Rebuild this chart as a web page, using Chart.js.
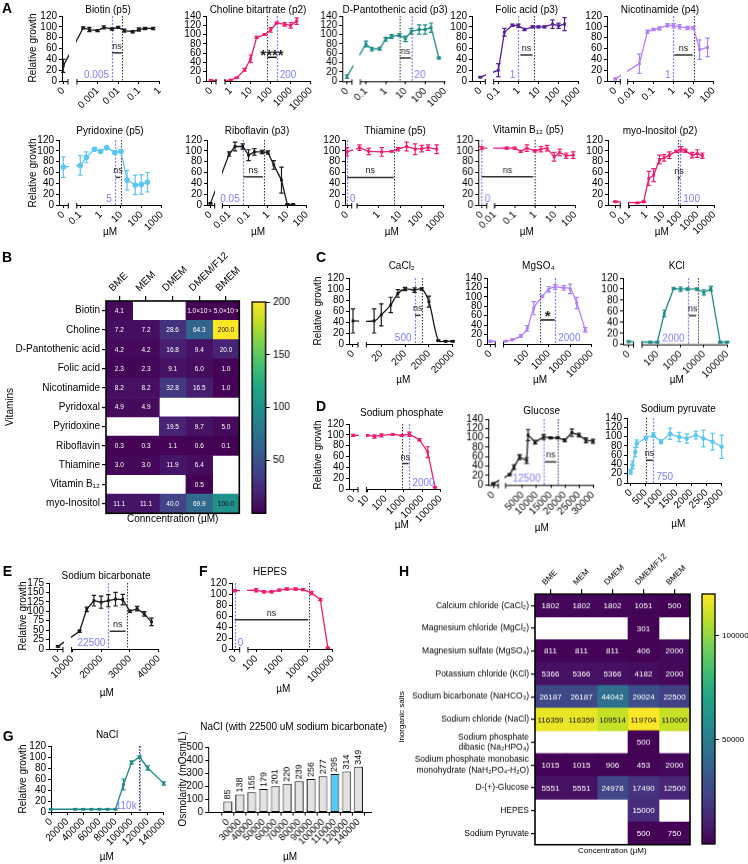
<!DOCTYPE html>
<html><head><meta charset="utf-8">
<script src="https://cdn.jsdelivr.net/npm/chart.js@4.4.1/dist/chart.umd.min.js"></script>
<style>
html,body{margin:0;padding:0;background:#fff;}
#fig{position:relative;width:748px;height:864px;overflow:hidden;font-family:"Liberation Sans",Arial,Helvetica,sans-serif;color:#000;}
#fig canvas{position:absolute;}
</style></head><body><div id="fig"></div>
<script>
// ===================== DATA =====================
// Panel A – vitamins (concentration µM, relative growth %, SD)
const biotinConc = [0, 0.0002, 0.0004, 0.001, 0.002, 0.005, 0.01, 0.02, 0.05, 0.1, 0.2, 0.5];
const biotinGrowth = [28, 98, 95, 93, 99, 96, 99, 93, 91, 95, 97, 97];
const biotinSD = [12, 2, 4, 2, 3, 2, 2, 3, 2, 3, 2, 2];
const biotinTicks = ['0', '0.001', '0.01', '0.1', '1'];

const cholineConc = [0, 1, 2, 5, 10, 20, 50, 100, 200, 500, 1000, 2000];
const cholineGrowth = [1.5, 2, 7, 24, 48, 94, 100, 110, 125, 122, 120, 129];
const cholineSD = [1, 1, 1, 3, 8, 2, 2, 5, 2, 4, 6, 7];
const cholineTicks = ['0', '1', '10', '100', '1000', '10000'];

const pantoConc = [0, 0.1, 0.2, 0.5, 1, 2, 5, 10, 20, 50, 100, 200, 500];
const pantoGrowth = [10, 80, 69, 70, 90, 96, 99, 91, 107, 111, 111, 115, 50];
const pantoSD = [4, 6, 4, 3, 4, 4, 3, 6, 6, 10, 10, 10, 2];
const pantoTicks = ['0', '0.1', '1', '10', '100', '1000'];

const folicConc = [0, 0.1, 0.2, 0.5, 1, 2, 5, 10, 20, 50, 100, 200];
const folicGrowth = [7, 20, 90, 103, 102, 95, 100, 100, 100, 105, 102, 105];
const folicSD = [1, 12, 7, 2, 3, 2, 2, 2, 2, 8, 5, 12];
const folicTicks = ['0', '0.1', '1', '10', '100', '1000'];

const nicoConc = [0, 0.02, 0.05, 0.1, 0.2, 0.5, 1, 2, 5, 10, 20, 50];
const nicoGrowth = [4, 32, 91, 95, 97, 103, 102, 100, 98, 98, 58, 62];
const nicoSD = [2, 18, 3, 2, 3, 3, 4, 4, 3, 3, 18, 17];
const nicoTicks = ['0', '0.01', '0.1', '1', '10', '100'];

const pyridoxineConc = [0, 0.1, 0.2, 0.5, 1, 2, 5, 10, 20, 50, 100, 200];
const pyridoxineGrowth = [70, 73, 88, 103, 99, 106, 97, 99, 46, 37, 38, 42];
const pyridoxineSD = [19, 18, 10, 2, 2, 2, 3, 2, 18, 18, 18, 18];
const pyridoxineTicks = ['0', '0.1', '1', '10', '100', '1000'];

const riboConc = [0, 0.01, 0.02, 0.05, 0.1, 0.2, 0.5, 1, 2, 5, 10, 20];
const riboGrowth = [3, 94, 108, 108, 92, 98, 98, 97, 74, 46, 1, 1];
const riboSD = [1, 4, 8, 5, 10, 6, 3, 3, 8, 24, 1, 1];
const riboTicks = ['0', '0.01', '0.1', '1', '10', '100'];

const thiaConc = [0, 0.13, 0.35, 1.4, 4, 8, 20, 50, 100, 200, 500];
const thiaGrowth = [98, 106, 99, 98, 99, 103, 108, 103, 104, 106, 103];
const thiaSD = [8, 5, 6, 8, 1, 3, 8, 10, 6, 5, 8];
const thiaTicks = ['0', '1', '10', '100', '1000'];

const b12Conc = [0, 0.04, 0.1, 0.2, 0.4, 1, 2, 4, 9, 17, 36, 80];
const b12Growth = [105, 105, 105, 99, 105, 100, 103, 105, 89, 97, 91, 92];
const b12SD = [3, 2, 2, 2, 6, 2, 5, 5, 8, 6, 5, 6];
const b12Ticks = ['0', '0.01', '0.1', '1', '10', '100'];

const inositolConc = [0, 0.3, 0.7, 1.4, 2.7, 6, 11, 23, 58, 110, 200, 500, 1000, 2000];
const inositolGrowth = [6, 4, 6, 49, 55, 84, 87, 92, 99, 103, 100, 92, 95, 91];
const inositolSD = [1, 1, 1, 13, 12, 8, 6, 6, 2, 5, 3, 5, 7, 5];
const inositolTicks = ['0', '0.1', '1', '10', '100', '1000', '10000'];

// Panel C – salts
const cacl2Conc = [0, 10, 20, 50, 100, 200, 500, 1000, 2000, 5000, 10000, 20000];
const cacl2Growth = [42, 42, 53, 71, 92, 100, 98, 100, 77, 6, 5, 5];
const cacl2SD = [22, 22, 20, 14, 7, 3, 4, 2, 10, 1, 1, 1];
const cacl2Ticks = ['0', '20', '200', '2000', '20000'];

const mgso4Conc = [0, 10, 20, 50, 100, 200, 500, 1000, 2000, 5000, 10000, 20000, 50000];
const mgso4Growth = [6, 6, 9, 17, 33, 76, 101, 116, 121, 119, 117, 87, 30];
const mgso4SD = [2, 1, 2, 3, 6, 14, 2, 6, 5, 5, 10, 12, 5];
const mgso4Ticks = ['0', '100', '1000', '10000', '100000'];

const kclConc = [0, 50, 100, 200, 500, 1000, 2000, 5000, 10000, 20000, 50000, 100000];
const kclGrowth = [5, 4, 4, 56, 101, 100, 100, 100, 94, 101, 4, 4];
const kclSD = [1, 1, 1, 6, 2, 4, 2, 2, 5, 4, 1, 1];
const kclTicks = ['0', '100', '1000', '10000', '100000'];

// Panel D
const naphosConc = [0, 10, 25, 60, 250, 750, 2000, 7000, 20000, 50000];
const naphosGrowth = [99, 99, 97, 99, 101, 99, 101, 91, 68, 3];
const naphosSD = [2, 1, 3, 3, 1, 1, 4, 2, 10, 1];
const naphosTicks = ['0', '10', '100', '1000', '10000', '100000'];

const glucoseConc = [0, 500, 2000, 4000, 6500, 7000, 9500, 12500, 15000, 17500, 20000, 22500, 25000, 27500, 30000];
const glucoseGrowth = [3, 22, 38, 59, 52, 106, 91, 102, 100, 100, 95, 111, 106, 95, 93];
const glucoseSD = [1, 2, 5, 5, 6, 12, 4, 5, 2, 2, 3, 8, 4, 5, 4];
const glucoseTicks = ['0', '5000', '10000', '15000', '20000', '25000', '30000'];

const pyruvateConc = [0, 60, 150, 200, 500, 750, 1000, 1300, 1600, 1850, 2150, 2400, 2700, 3000];
const pyruvateGrowth = [24, 39, 67, 85, 97, 103, 89, 106, 99, 96, 103, 96, 89, 78];
const pyruvateSD = [5, 8, 10, 8, 4, 5, 4, 12, 10, 10, 8, 18, 18, 25];
const pyruvateTicks = ['0', '500', '1000', '1500', '2000', '2500', '3000'];

// Panel E, F
const bicarbConc = [0, 12500, 15000, 17500, 20000, 22500, 25000, 27500, 30000, 32500, 35000, 37500];
const bicarbGrowth = [7, 47, 105, 128, 124, 128, 132, 131, 100, 107, 93, 72];
const bicarbSD = [2, 3, 6, 14, 16, 16, 18, 14, 3, 6, 6, 10];
const bicarbTicks = ['0', '10000', '20000', '30000', '40000'];

const hepesConc = [0, 100, 200, 400, 800, 1600, 3500, 7000, 15000, 33000, 65000];
const hepesGrowth = [106, 107, 104, 104, 107, 109, 109, 108, 102, 90, 2];
const hepesSD = [2, 3, 2, 2, 2, 2, 2, 2, 3, 2, 1];
const hepesTicks = ['0', '100', '1000', '10000', '100000'];

// Panel G
const naclConc = [0, 30000, 40000, 50000, 60000, 70000, 80000, 90000, 100000, 110000, 120000, 140000];
const naclGrowth = [5, 5, 5, 5, 5, 5, 5, 50, 90, 100, 80, 52];
const naclSD = [1, 1, 1, 1, 1, 1, 1, 10, 3, 2, 4, 3];
const naclTicks = ['0', '20000', '40000', '60000', '80000', '100000', '120000', '140000'];

const osmoCats = ['0', '30000', '40000', '50000', '60000', '70000', '80000', '90000', '100000', '110000', '120000', '140000'];
const osmoValues = [85, 138, 155, 179, 201, 220, 239, 256, 277, 295, 314, 349];

// Panel B / H heatmaps
const mediaNames = ['BME', 'MEM', 'DMEM', 'DMEM/F12', 'BMEM'];
const vitaminNames = ['Biotin', 'Choline', 'D-Pantothenic acid', 'Folic acid', 'Nicotinamide', 'Pyridoxal', 'Pyridoxine', 'Riboflavin', 'Thiamine', 'Vitamin B₁₂', 'myo-Inositol'];
const vitaminConc = [
  [4.1, null, null, 0.01, 0.005],
  [7.2, 7.2, 28.6, 64.3, 200.0],
  [4.2, 4.2, 16.8, 9.4, 20.0],
  [2.3, 2.3, 9.1, 6.0, 1.0],
  [8.2, 8.2, 32.8, 16.5, 1.0],
  [4.9, 4.9, null, null, null],
  [null, null, 19.5, 9.7, 5.0],
  [0.3, 0.3, 1.1, 0.6, 0.1],
  [3.0, 3.0, 11.9, 6.4, null],
  [null, null, null, 0.5, null],
  [11.1, 11.1, 40.0, 69.9, 100.0]
];
const vitaminScaleTicks = [50, 100, 150, 200];

const saltNames = ['Calcium chloride (CaCl₂)', 'Magnesium chloride (MgCl₂)', 'Magnesium sulfate (MgSO₄)', 'Potassium chloride (KCl)',
  'Sodium bicarbonate (NaHCO₃)', 'Sodium chloride (NaCl)', ['Sodium phosphate', 'dibasic (Na₂HPO₄)'],
  ['Sodium phosphate monobasic', 'monohydrate (NaH₂PO₄-H₂O)'], 'D-(+)-Glucose', 'HEPES', 'Sodium Pyruvate'];
const saltConc = [
  [1802, 1802, 1802, 1051, 500],
  [null, null, null, 301, null],
  [811, 811, 811, 406, 2000],
  [5366, 5366, 5366, 4182, 2000],
  [26187, 26187, 44042, 29024, 22500],
  [116359, 116359, 109514, 119704, 110000],
  [null, null, null, 500, null],
  [1015, 1015, 906, 453, 2000],
  [5551, 5551, 24978, 17490, 12500],
  [null, null, null, 15000, null],
  [null, null, null, 500, 750]
];
const saltScaleTicks = [50000, 100000];

// ===================== STYLE / HELPERS =====================
const FONT = '"Liberation Sans", Arial, Helvetica, sans-serif';
const BLACK = '#1a1a1a', PINK = '#f3196f', TEAL = '#1c8b88', DPURP = '#55209c', LPURP = '#b07fff', LBLUE = '#5cc6f2', BLUE = '#7f7fff';
Chart.defaults.font.family = FONT;
Chart.defaults.color = '#000';
Chart.defaults.animation = false;

const VIR = ['#440154', '#482475', '#414487', '#355f8d', '#2a788e', '#21918c', '#22a884', '#44bf70', '#7ad151', '#bddf26', '#fde725'];
function hexRgb(h) { return [parseInt(h.slice(1, 3), 16), parseInt(h.slice(3, 5), 16), parseInt(h.slice(5, 7), 16)]; }
function viridis(t) {
  t = Math.max(0, Math.min(1, t));
  const n = VIR.length - 1, i = Math.min(n - 1, Math.floor(t * n)), f = t * n - i;
  const a = hexRgb(VIR[i]), b = hexRgb(VIR[i + 1]);
  return `rgb(${Math.round(a[0] + (b[0] - a[0]) * f)},${Math.round(a[1] + (b[1] - a[1]) * f)},${Math.round(a[2] + (b[2] - a[2]) * f)})`;
}

const fig = document.getElementById('fig');
function addText(s, x, y, o = {}) {
  const d = document.createElement('div');
  d.textContent = s;
  d.style.cssText = `position:absolute;left:${x}px;top:${y}px;white-space:nowrap;line-height:1;font-size:${o.size || 10}px;` +
    `${o.bold ? 'font-weight:bold;' : ''}${o.color ? 'color:' + o.color + ';' : ''}transform:translate(-50%,-50%)${o.rot ? ' rotate(-90deg)' : ''};`;
  fig.appendChild(d);
}
function letter(s, x, y) {
  const d = document.createElement('div');
  d.textContent = s;
  d.style.cssText = `position:absolute;left:${x}px;top:${y}px;font-weight:bold;font-size:14px;line-height:1;`;
  fig.appendChild(d);
}
function mkCanvas(left, top, w, h) {
  const c = document.createElement('canvas');
  c.width = Math.round(w); c.height = Math.round(h);
  c.style.left = left + 'px'; c.style.top = top + 'px';
  c.style.width = Math.round(w) + 'px'; c.style.height = Math.round(h) + 'px';
  fig.appendChild(c);
  return c;
}
function place(chart, c, B) {
  let ca = chart.chartArea;
  const dw = (B.r - B.l) - (ca.right - ca.left), dh = (B.b - B.t) - (ca.bottom - ca.top);
  if (Math.abs(dw) > 0.4 || Math.abs(dh) > 0.4) { chart.resize(chart.width + dw, chart.height + dh); ca = chart.chartArea; }
  c.style.left = (B.l - ca.left) + 'px'; c.style.top = (B.t - ca.top) + 'px';
}
const baseOpts = () => ({ responsive: false, maintainAspectRatio: false, animation: false, events: [],
  plugins: { legend: { display: false }, tooltip: { enabled: false }, title: { display: false } } });

// ===================== LINE CHARTS =====================
function lineChart(S, idx) {
  const L = S.L;
  const T = L.mode === 'log' ? Math.log10 : (v => v);
  const pos = px => T(L.ax[1]) + (px - L.ax[0]) / L.k;
  const brk = L.zero !== undefined;
  const P = v => (v === 0 && brk) ? pos(L.zero) : T(v);
  const YW = 34, TP = 10, RP = 14, XH = 46;
  const c = mkCanvas(L.l - YW, L.t - TP, (L.r - L.l) + YW + RP, (L.b - L.t) + TP + XH);
  const tickVals = S.ticks.map(s => P(parseFloat(s)));
  const deco = {
    id: 'deco' + idx,
    beforeDatasetsDraw(ch) {
      const ctx = ch.ctx, xs = ch.scales.x, ca = ch.chartArea;
      ctx.save();
      (S.vl || []).forEach(([v, k]) => {
        const x = Math.round(xs.getPixelForValue(P(v))) + 0.5;
        ctx.beginPath();
        ctx.setLineDash(k === 'b' ? [2, 1.5] : [1.5, 1.5]);
        ctx.strokeStyle = k === 'b' ? BLUE : '#3a3a3a';
        ctx.lineWidth = k === 'b' ? 1.2 : 1.1;
        ctx.moveTo(x, ca.top); ctx.lineTo(x, ca.bottom); ctx.stroke();
      });
      ctx.restore();
    },
    afterDatasetsDraw(ch) {
      const ctx = ch.ctx, ys = ch.scales.y, xs = ch.scales.x, ca = ch.chartArea;
      const meta = ch.getDatasetMeta(0);
      ctx.save();
      ctx.strokeStyle = S.color; ctx.lineWidth = 1.2;
      meta.data.forEach((pt, i) => {
        const e = S.e[i]; if (!e) return;
        const y1 = ys.getPixelForValue(S.y[i] + e), y2 = ys.getPixelForValue(Math.max(0, S.y[i] - e));
        ctx.beginPath();
        ctx.moveTo(pt.x, y1); ctx.lineTo(pt.x, y2);
        ctx.moveTo(pt.x - 2.2, y1); ctx.lineTo(pt.x + 2.2, y1);
        ctx.moveTo(pt.x - 2.2, y2); ctx.lineTo(pt.x + 2.2, y2);
        ctx.stroke();
      });
      if (brk) {
        const x1 = xs.getPixelForValue(pos(L.zEnd)) + 0.8, x2 = xs.getPixelForValue(pos(L.seg)) - 0.8;
        ctx.clearRect(x1, ca.top - 10, x2 - x1, ca.bottom - ca.top + 10);
      }
      ctx.restore();
    },
    afterDraw(ch) {
      const ctx = ch.ctx, xs = ch.scales.x, ys = ch.scales.y, ca = ch.chartArea;
      const X = v => xs.getPixelForValue(P(v));
      const seg = (a, b, y1, y2) => { ctx.beginPath(); ctx.moveTo(a, y1); ctx.lineTo(b, y2); ctx.stroke(); };
      ctx.save();
      ctx.setLineDash([]); ctx.strokeStyle = '#000'; ctx.lineWidth = 1;
      const yb = ca.bottom + 0.5;
      if (brk) {
        const xz = xs.getPixelForValue(pos(L.zEnd)), xg = xs.getPixelForValue(pos(L.seg));
        seg(ca.left, xz, yb, yb); seg(xz, xz, yb - 2.5, yb + 3);
        seg(xg, ca.right, yb, yb); seg(xg, xg, yb - 2.5, yb + 3);
      } else seg(ca.left, ca.right, yb, yb);
      if (S.lab) {
        const [txt, v, side] = S.lab;
        ctx.font = '10px ' + FONT; ctx.fillStyle = BLUE; ctx.textBaseline = 'middle';
        ctx.textAlign = side === 'l' ? 'right' : 'left';
        ctx.fillText(txt, X(v) + (side === 'l' ? -3 : 3), ys.getPixelForValue(L.ymax * 0.085));
      }
      if (S.ns) {
        const [a, b, yv, t] = S.ns;
        const x1 = X(a), x2 = X(b), yy = ys.getPixelForValue(yv);
        const big = t !== 'ns';
        ctx.strokeStyle = big ? '#111' : '#333'; ctx.lineWidth = 1.5;
        seg(x1, x2, yy, yy);
        ctx.fillStyle = '#222'; ctx.textAlign = 'center'; ctx.textBaseline = 'alphabetic';
        ctx.font = big ? 'bold 15px ' + FONT : '9px ' + FONT;
        ctx.fillText(t, (x1 + x2) / 2, big ? yy + (t === '*' ? 1 : 2.5) : yy - 4);
      }
      ctx.restore();
    }
  };
  const opts = baseOpts();
  opts.layout = { padding: { left: 0, top: TP, right: RP, bottom: 0 } };
  opts.scales = {
    x: { type: 'linear', min: pos(L.l), max: pos(L.r),
      afterBuildTicks: s => { s.ticks = tickVals.map(v => ({ value: v })); },
      ticks: { autoSkip: false, minRotation: 45, maxRotation: 45, padding: 1, font: { size: 10 }, color: '#000', callback: (v, i) => S.ticks[i] },
      grid: { drawOnChartArea: false, drawTicks: true, tickLength: 3, color: '#000', lineWidth: 1 },
      border: { display: false },
      afterFit: s => { s.height = XH; } },
    y: { min: 0, max: L.ymax,
      ticks: { autoSkip: false, stepSize: L.ystep || 20, font: { size: 10 }, color: '#000', padding: 2 },
      grid: { drawOnChartArea: false, tickLength: 3, color: '#000' },
      border: { display: true, color: '#000', width: 1 },
      afterFit: s => { s.width = YW; } }
  };
  const chart = new Chart(c, {
    type: 'line',
    data: { datasets: [{ data: S.x.map((v, i) => ({ x: P(v), y: S.y[i] })),
      borderColor: S.color, backgroundColor: S.color, borderWidth: 1.3,
      pointStyle: S.ps || 'rect', pointRadius: S.pr || 2, pointBorderWidth: 0,
      tension: S.tension || 0, clip: 10 }] },
    options: opts,
    plugins: [deco]
  });
  place(chart, c, L);
}

const lineSpecs = [
  // Row A1
  { L: { l: 62, t: 15.7, r: 160.3, b: 81, ymax: 120, mode: 'log', ax: [97.7, 0.001], k: 20.7, zero: 63.3, zEnd: 68, seg: 77 },
    x: biotinConc, y: biotinGrowth, e: biotinSD, ticks: biotinTicks, color: BLACK,
    vl: [[0.005, 'b'], [0.015, 'k']], lab: ['0.005', 0.005, 'l'], ns: [0.005, 0.015, 52, 'ns'] },
  { L: { l: 206, t: 15.7, r: 311, b: 81, ymax: 140, mode: 'log', ax: [230.7, 1], k: 20, zero: 211, zEnd: 216, seg: 225 },
    x: cholineConc, y: cholineGrowth, e: cholineSD, ticks: cholineTicks, color: PINK,
    vl: [[68, 'k'], [200, 'b']], lab: ['200', 200, 'r'], ns: [68, 200, 51, '****'] },
  { L: { l: 342, t: 15.7, r: 444.5, b: 81, ymax: 140, mode: 'log', ax: [365.5, 0.1], k: 19.6, zero: 346.7, zEnd: 351.7, seg: 360 },
    x: pantoConc, y: pantoGrowth, e: pantoSD, ticks: pantoTicks, color: TEAL,
    vl: [[5, 'k'], [20, 'b']], lab: ['20', 20, 'r'], ns: [5.3, 19, 50, 'ns'] },
  { L: { l: 471.7, t: 15.7, r: 578.4, b: 81, ymax: 120, mode: 'log', ax: [498, 0.1], k: 20, zero: 480, zEnd: 485, seg: 493.3 },
    x: folicConc, y: folicGrowth, e: folicSD, ticks: folicTicks, color: DPURP,
    vl: [[1, 'b'], [6, 'k']], lab: ['1', 1, 'l'], ns: [1.25, 5, 48, 'ns'] },
  { L: { l: 606.7, t: 15.7, r: 713.4, b: 81, ymax: 120, mode: 'log', ax: [633, 0.01], k: 20, zero: 615, zEnd: 620, seg: 627.3 },
    x: nicoConc, y: nicoGrowth, e: nicoSD, ticks: nicoTicks, color: LPURP,
    vl: [[1, 'b'], [10, 'k']], lab: ['1', 1, 'l'], ns: [1.1, 9, 48, 'ns'] },
  // Row A2
  { L: { l: 59, t: 140, r: 161.7, b: 205, ymax: 120, mode: 'log', ax: [80.2, 0.1], k: 20.3, zero: 63.3, zEnd: 68.3, seg: 76.7 },
    x: pyridoxineConc, y: pyridoxineGrowth, e: pyridoxineSD, ticks: pyridoxineTicks, color: LBLUE, ps: 'circle', pr: 2.8,
    vl: [[5, 'b'], [10, 'k']], lab: ['5', 5, 'l'], ns: [5.5, 9.2, 51, 'ns'] },
  { L: { l: 207.3, t: 140, r: 307.4, b: 205, ymax: 120, mode: 'log', ax: [229.5, 0.01], k: 19.4, zero: 210.7, zEnd: 215, seg: 222.7 },
    x: riboConc, y: riboGrowth, e: riboSD, ticks: riboTicks, color: BLACK,
    vl: [[0.05, 'b'], [0.6, 'k']], lab: ['0.05', 0.05, 'l'], ns: [0.055, 0.55, 52, 'ns'] },
  { L: { l: 345, t: 140, r: 443.8, b: 205, ymax: 120, mode: 'log', ax: [378.5, 1], k: 21.5, zero: 347, zEnd: 351.7, seg: 357 },
    x: thiaConc, y: thiaGrowth, e: thiaSD, ticks: thiaTicks, color: PINK,
    vl: [[0, 'b'], [5, 'k']], lab: ['0', 0, 'r'], ns: [0, 5, 51, 'ns'] },
  { L: { l: 478.3, t: 140, r: 574.8, b: 205, ymax: 120, mode: 'log', ax: [494.5, 0.01], k: 20, zero: 481.7, zEnd: 486.7, seg: 494.5 },
    x: b12Conc, y: b12Growth, e: b12SD, ticks: b12Ticks, color: PINK,
    vl: [[0, 'b'], [0.95, 'k']], lab: ['0', 0, 'r'], ns: [0, 0.85, 52, 'ns'] },
  { L: { l: 607.7, t: 140, r: 714.3, b: 205, ymax: 120, mode: 'log', ax: [629, 0.1], k: 17, zero: 615, zEnd: 620, seg: 628.3 },
    x: inositolConc, y: inositolGrowth, e: inositolSD, ticks: inositolTicks, color: PINK,
    vl: [[69.9, 'k'], [100, 'b']], lab: ['100', 100, 'r'], ns: [72, 98, 50, 'ns'] },
  // C
  { L: { l: 349.3, t: 278.3, r: 453.7, b: 344, ymax: 120, mode: 'log', ax: [381.7, 20], k: 23.9, zero: 353.3, zEnd: 358.3, seg: 366.7 },
    x: cacl2Conc, y: cacl2Growth, e: cacl2SD, ticks: cacl2Ticks, color: BLACK, tension: 0.3,
    vl: [[500, 'b'], [1000, 'k']], lab: ['500', 500, 'l'], ns: [520, 900, 52, 'ns'] },
  { L: { l: 486.7, t: 278.3, r: 591.8, b: 344, ymax: 140, mode: 'log', ax: [527, 100], k: 21.5, zero: 490, zEnd: 495, seg: 503.3 },
    x: mgso4Conc, y: mgso4Growth, e: mgso4SD, ticks: mgso4Ticks, color: LPURP, tension: 0.3,
    vl: [[406, 'k'], [2000, 'b']], lab: ['2000', 2000, 'r'], ns: [420, 1900, 51, '*'] },
  { L: { l: 622.7, t: 278.3, r: 727.3, b: 344, ymax: 120, mode: 'log', ax: [657, 100], k: 23.3, zero: 628.3, zEnd: 633.3, seg: 641.7 },
    x: kclConc, y: kclGrowth, e: kclSD, ticks: kclTicks, color: TEAL,
    vl: [[2000, 'b'], [5366, 'k']], lab: ['2000', 2000, 'l'], ns: [2300, 4700, 52, 'ns'] },
  // D
  { L: { l: 349.3, t: 424, r: 441, b: 489, ymax: 120, mode: 'log', ax: [404, 1000], k: 18.3, zero: 353.3, zEnd: 358.3, seg: 366.7 },
    x: naphosConc, y: naphosGrowth, e: naphosSD, ticks: naphosTicks, color: PINK,
    vl: [[750, 'k'], [2000, 'b']], lab: ['2000', 2000, 'r'], ns: [800, 1800, 47, 'ns'] },
  { L: { l: 488.3, t: 419.3, r: 593.7, b: 484.6, ymax: 140, mode: 'lin', ax: [543.3, 12500], k: 0.002806, zero: 493.3, zEnd: 498.3, seg: 505.5 },
    x: glucoseConc, y: glucoseGrowth, e: glucoseSD, ticks: glucoseTicks, color: BLACK,
    vl: [[12500, 'b'], [17490, 'k']], lab: ['12500', 12500, 'l'], ns: [13000, 17000, 49, 'ns'] },
  { L: { l: 626.7, t: 417.7, r: 721.6, b: 483, ymax: 140, mode: 'lin', ax: [645.5, 500], k: 0.0303 },
    x: pyruvateConc, y: pyruvateGrowth, e: pyruvateSD, ticks: pyruvateTicks, color: LBLUE, ps: 'circle', pr: 2.2,
    vl: [[500, 'k'], [750, 'b']], lab: ['750', 750, 'r'], ns: [520, 730, 49, 'ns'] },
  // E, F
  { L: { l: 49.3, t: 583.3, r: 159.6, b: 649.3, ymax: 175, ystep: 25, mode: 'lin', ax: [72.7, 10000], k: 0.002887, zero: 58.3, zEnd: 63.3, seg: 72 },
    x: bicarbConc, y: bicarbGrowth, e: bicarbSD, ticks: bicarbTicks, color: BLACK,
    vl: [[22500, 'b'], [29024, 'k']], lab: ['22500', 22500, 'l'], ns: [23000, 28500, 47, 'ns'] },
  { L: { l: 232.3, t: 583.3, r: 333.4, b: 649.3, ymax: 120, mode: 'log', ax: [256.5, 100], k: 25.5, zero: 235, zEnd: 240, seg: 248.3 },
    x: hepesConc, y: hepesGrowth, e: hepesSD, ticks: hepesTicks, color: PINK,
    vl: [[0, 'b'], [12000, 'k']], lab: ['0', 0, 'r'], ns: [0, 11000, 53, 'ns'] },
  // G line
  { L: { l: 50.7, t: 746, r: 163.6, b: 811.7, ymax: 120, mode: 'lin', ax: [50.7, 0], k: 0.000805 },
    x: naclConc, y: naclGrowth, e: naclSD, ticks: naclTicks, color: TEAL,
    vl: [[109500, 'k'], [110000, 'b']], lab: ['110k', 110000, 'l'] }
];
lineSpecs.forEach(lineChart);

// ===================== HEATMAPS =====================
function heatmap(o, idx) {
  const B = o.box;
  const c = mkCanvas(B.l - o.yw, B.t - o.xh, (B.r - B.l) + o.yw + o.rp, (B.b - B.t) + o.xh + 6);
  const ds = o.cols.map((col, j) => ({
    data: o.vals.map(row => row[j] == null ? null : [j - 0.5, j + 0.5]),
    backgroundColor: o.vals.map(row => row[j] == null ? '#fff' : viridis(row[j] / o.vmax)),
    borderWidth: 0, grouped: false, barPercentage: 1, categoryPercentage: 1
  }));
  const plug = {
    id: 'hm' + idx,
    afterDatasetsDraw(ch) {
      const ctx = ch.ctx, xs = ch.scales.x, ys = ch.scales.y;
      ctx.save();
      ctx.font = o.tf + 'px ' + FONT; ctx.textAlign = 'center'; ctx.textBaseline = 'middle';
      o.vals.forEach((row, i) => row.forEach((v, j) => {
        if (v == null) return;
        ctx.fillStyle = v / o.vmax >= 0.5 ? '#111' : '#fff';
        ctx.fillText(o.fmt(v), xs.getPixelForValue(j), ys.getPixelForValue(i) + 0.5);
      }));
      ctx.restore();
    },
    afterDraw(ch) {
      const ctx = ch.ctx, ca = ch.chartArea;
      ctx.save(); ctx.strokeStyle = '#000'; ctx.lineWidth = 1.6;
      ctx.strokeRect(ca.left, ca.top, ca.right - ca.left, ca.bottom - ca.top);
      ctx.restore();
    }
  };
  const opts = baseOpts();
  opts.indexAxis = 'y';
  opts.layout = { padding: { left: 0, top: 0, right: o.rp, bottom: 6 } };
  opts.scales = {
    x: { type: 'linear', position: 'top', min: -0.5, max: o.cols.length - 0.5,
      afterBuildTicks: s => { s.ticks = o.cols.map((_, j) => ({ value: j })); },
      ticks: { autoSkip: false, minRotation: 45, maxRotation: 45, font: { size: o.cf }, color: '#000', padding: 2, callback: (v, i) => o.cols[i] },
      grid: { drawOnChartArea: false, tickLength: 5, color: '#000', lineWidth: 1.2 },
      border: { display: false },
      afterFit: s => { s.height = o.xh; } },
    y: { type: 'category', offset: true,
      ticks: { autoSkip: false, font: { size: o.rf }, color: '#000', padding: 2 },
      grid: { drawOnChartArea: false, offset: false, tickLength: 4, color: '#000', lineWidth: 1.2 },
      border: { display: false },
      afterFit: s => { s.width = o.yw; } }
  };
  const chart = new Chart(c, { type: 'bar', data: { labels: o.rows, datasets: ds }, options: opts, plugins: [plug] });
  place(chart, c, B);
}
function colorbar(o, idx) {
  const B = o.box;
  const c = mkCanvas(B.l - 2, B.t - 8, (B.r - B.l) + 2 + o.rw, (B.b - B.t) + 16);
  const frame = { id: 'cbf' + idx, afterDraw(ch) {
    const ctx = ch.ctx, ca = ch.chartArea; ctx.save(); ctx.strokeStyle = '#000'; ctx.lineWidth = 1.3;
    ctx.strokeRect(ca.left, ca.top, ca.right - ca.left, ca.bottom - ca.top); ctx.restore(); } };
  const opts = baseOpts();
  opts.layout = { padding: { left: 2, top: 8, right: 0, bottom: 8 } };
  opts.scales = {
    x: { display: false },
    y: { position: 'right', min: 0, max: o.vmax,
      afterBuildTicks: s => { s.ticks = o.ticks.map(v => ({ value: v })); },
      ticks: { autoSkip: false, font: { size: o.f }, color: '#000', padding: 3, callback: v => String(v) },
      grid: { drawOnChartArea: false, tickLength: 4, color: '#000' },
      border: { display: false },
      afterFit: s => { s.width = o.rw; } }
  };
  const chart = new Chart(c, {
    type: 'bar',
    data: { labels: [''], datasets: [{ data: [[0, o.vmax]], borderWidth: 0, barPercentage: 1, categoryPercentage: 1,
      backgroundColor: (ctx) => {
        const ch = ctx.chart; if (!ch.chartArea) return '#440154';
        const ys = ch.scales.y;
        const g = ch.ctx.createLinearGradient(0, ys.getPixelForValue(0), 0, ys.getPixelForValue(o.vmax));
        VIR.forEach((col, i) => g.addColorStop(i / (VIR.length - 1), col));
        return g;
      } }] },
    options: opts, plugins: [frame]
  });
  place(chart, c, B);
}
const SUP = { '-': '⁻', '0': '⁰', '1': '¹', '2': '²', '3': '³', '4': '⁴', '5': '⁵', '6': '⁶', '7': '⁷', '8': '⁸', '9': '⁹' };
const fmtVit = v => {
  if (v >= 0.1) return v.toFixed(1);
  const e = Math.floor(Math.log10(v) + 1e-9), m = v / Math.pow(10, e);
  return m.toFixed(1) + '×10' + String(e).split('').map(ch => SUP[ch]).join('');
};
heatmap({ box: { l: 106, t: 301, r: 239.3, b: 513.3 }, rows: vitaminNames, cols: mediaNames, vals: vitaminConc, vmax: 200,
  yw: 106, xh: 55, rp: 40, rf: 10, cf: 10, tf: 6.5, fmt: fmtVit }, 0);
colorbar({ box: { l: 252.3, t: 302, r: 265.7, b: 513.3 }, vmax: 200, ticks: vitaminScaleTicks, rw: 34, f: 10 }, 0);
heatmap({ box: { l: 535, t: 594.3, r: 690, b: 844 }, rows: saltNames, cols: mediaNames, vals: saltConc, vmax: 120000,
  yw: 130, xh: 55, rp: 40, rf: 8.5, cf: 8, tf: 8, fmt: v => String(v) }, 1);
colorbar({ box: { l: 701.7, t: 594.3, r: 715, b: 844 }, vmax: 120000, ticks: saltScaleTicks, rw: 33, f: 8 }, 1);

// ===================== BAR CHART (G right) =====================
(function () {
  const B = { l: 208.3, t: 746.7, r: 370.6, b: 812.3 };
  const YW = 34, TP = 14, RP = 10, XH = 46;
  const c = mkCanvas(B.l - YW, B.t - TP, (B.r - B.l) + YW + RP, (B.b - B.t) + TP + XH);
  const labels = { id: 'osmoLab', afterDatasetsDraw(ch) {
    const ctx = ch.ctx, meta = ch.getDatasetMeta(0);
    ctx.save(); ctx.font = '9px ' + FONT; ctx.fillStyle = '#000'; ctx.textAlign = 'left'; ctx.textBaseline = 'middle';
    meta.data.forEach((bar, i) => { ctx.save(); ctx.translate(bar.x, bar.y - 2); ctx.rotate(-Math.PI / 2); ctx.fillText(String(osmoValues[i]), 0, 0); ctx.restore(); });
    ctx.restore(); } };
  const opts = baseOpts();
  opts.layout = { padding: { left: 0, top: TP, right: RP, bottom: 0 } };
  opts.scales = {
    x: { type: 'linear', min: -1.085, max: 11.5,
      afterBuildTicks: s => { s.ticks = osmoCats.map((_, i) => ({ value: i })); },
      ticks: { autoSkip: false, minRotation: 45, maxRotation: 45, padding: 1, font: { size: 9.5 }, color: '#000', callback: (v, i) => osmoCats[i] },
      grid: { drawOnChartArea: false, tickLength: 3, color: '#000' },
      border: { display: true, color: '#000' },
      afterFit: s => { s.height = XH; } },
    y: { min: 0, max: 500, ticks: { autoSkip: false, stepSize: 100, font: { size: 10 }, color: '#000', padding: 2 },
      grid: { drawOnChartArea: false, tickLength: 3, color: '#000' },
      border: { display: true, color: '#000' },
      afterFit: s => { s.width = YW; } }
  };
  const chart = new Chart(c, {
    type: 'bar',
    data: { datasets: [{ data: osmoValues.map((v, i) => ({ x: i, y: v })),
      backgroundColor: osmoCats.map(cat => cat === '110000' ? '#5ac8fa' : '#e3e3e3'),
      borderColor: '#111', borderWidth: 1, borderSkipped: false, barPercentage: 0.74, categoryPercentage: 1 }] },
    options: opts, plugins: [labels]
  });
  place(chart, c, B);
})();

// ===================== TEXT =====================
[['Biotin (p5)', 108, 10], ['Choline bitartrate (p2)', 258, 10], ['D-Pantothenic acid (p3)', 395, 10], ['Folic acid (p3)', 526.7, 10], ['Nicotinamide (p4)', 660, 10],
 ['Pyridoxine (p5)', 110, 130.7], ['Riboflavin (p3)', 257, 130.7], ['Thiamine (p5)', 395, 130.7], ['Vitamin B₁₂ (p5)', 528.3, 129.5], ['myo-Inositol (p2)', 660, 130.7],
 ['CaCl₂', 401.7, 266], ['MgSO₄', 538.3, 266], ['KCl', 676.7, 266],
 ['Sodium phosphate', 401.7, 413.3], ['Glucose', 541.7, 411], ['Sodium pyruvate', 678.3, 409],
 ['Sodium bicarbonate', 106, 576], ['HEPES', 270, 572], ['NaCl', 107, 735], ['NaCl (with 22500 uM sodium bicarbonate)', 293.7, 727.3]
].forEach(([s, x, y]) => addText(s, x, y));
[['Relative growth', 33, 48], ['Relative growth', 33, 172.5], ['Relative growth', 318, 311], ['Relative growth', 318, 455],
 ['Relative growth', 23, 616], ['Relative growth', 23, 779], ['Osmolarity (mOsm/L)', 183, 779], ['Vitamins', 10, 407]
].forEach(([s, x, y]) => addText(s, x, y, { rot: true }));
addText('Inorganic salts', 401.7, 716.7, { rot: true, size: 8 });
[[110, 232.3], [258, 232.3], [391.7, 232.3], [526.7, 232.3], [661.7, 232.3], [403.3, 380], [540, 380], [676.7, 380],
 [401.7, 525], [541.7, 528.3], [678.3, 524], [106.7, 692.7], [283.3, 689.3], [106.7, 857.3], [290, 857.3]
].forEach(([x, y]) => addText('µM', x, y));
addText('Conncentration (µM)', 172.7, 519.3);
addText('Concentration (µM)', 612.3, 851, { size: 8 });
[['A', 2, 1], ['B', 2, 250], ['C', 316, 250], ['D', 316, 399], ['E', 2.7, 564], ['F', 199, 564], ['G', 2.7, 729], ['H', 399, 564]]
  .forEach(([s, x, y]) => letter(s, x, y));
</script></body></html>
